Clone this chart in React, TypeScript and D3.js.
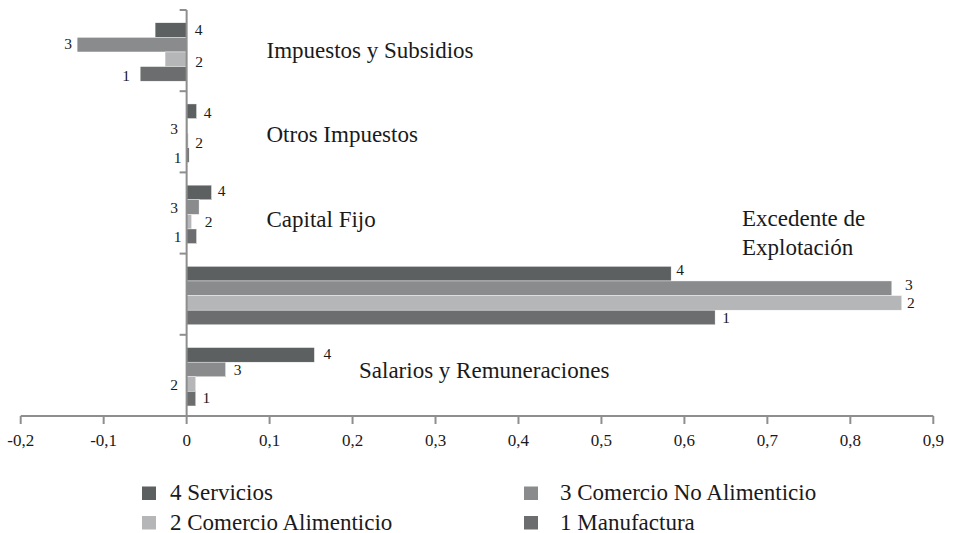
import * as d3 from 'd3';

// categories, top to bottom as drawn
const categories = [
  'Impuestos y Subsidios',
  'Otros Impuestos',
  'Capital Fijo',
  'Excedente de Explotación',
  'Salarios y Remuneraciones',
];

// series in drawing order inside each group (top bar first)
const seriesKeys = ['4', '3', '2', '1'];
const seriesNames = ['4 Servicios', '3 Comercio No Alimenticio', '2 Comercio Alimenticio', '1 Manufactura'];

const servicios = [-0.038, 0.012, 0.03, 0.584, 0.154];
const noAlimenticio = [-0.132, 0.001, 0.015, 0.85, 0.047];
const alimenticio = [-0.026, 0.002, 0.006, 0.862, 0.011];
const manufactura = [-0.056, 0.003, 0.012, 0.637, 0.011];

const xTicks = [-0.2, -0.1, 0, 0.1, 0.2, 0.3, 0.4, 0.5, 0.6, 0.7, 0.8, 0.9];

const colors = ['#5d6061', '#8a8b8c', '#b5b6b7', '#6b6d6e'];
const axisColor = '#8e8e8e';
const font = '"Liberation Serif", "DejaVu Serif", "Times New Roman", serif';

// where each data label sits: 'e' = from bar end, 'z' = from zero line; dx, dy in px
const labelPlace: [string, number, number][][] = [
  [['z', 12, 0], ['e', -9, -0.5], ['z', 12.5, 2.5], ['e', -14, 2]],
  [['e', 11, 2], ['z', -12.5, 3], ['z', 12.5, 2.2], ['z', -9, 3]],
  [['e', 10, -1.5], ['z', -12.5, 0.6], ['z', 22, 0], ['z', -9, 0.4]],
  [['e', 9, -3.5], ['e', 17, -3.3], ['e', 9, 0.5], ['e', 11, 0.3]],
  [['e', 13, -1], ['e', 12, 0.5], ['z', -12.5, 1], ['e', 10.5, -0.5]],
];

// category label anchors (start x, baseline y of first line)
const catLabels = [
  { lines: ['Impuestos y Subsidios'], x: 266.5, y: 58.3 },
  { lines: ['Otros Impuestos'], x: 266.5, y: 141.5 },
  { lines: ['Capital Fijo'], x: 266.5, y: 226.5 },
  { lines: ['Excedente de', 'Explotación'], x: 742, y: 226 },
  { lines: ['Salarios y Remuneraciones'], x: 359, y: 378.3 },
];

export default function App() {
  const width = 953;
  const height = 533;
  const values = [servicios, noAlimenticio, alimenticio, manufactura];

  const x = d3.scaleLinear().domain([-0.2, 0.9]).range([20.7, 933.3]);
  const y = d3.scaleBand().domain(categories).range([10, 416]).padding(0);
  const sub = d3
    .scaleBand()
    .domain(seriesKeys)
    .range([0, y.bandwidth()])
    .paddingInner(0)
    .paddingOuter(0.78)
    .align(0.56);

  const x0 = x(0);
  const bottom = y.range()[1];
  const bandEdges = [...categories.map((c) => y(c) as number), bottom];
  const fmt = (v: number) => (v === 0 ? '0' : d3.format('.1f')(v).replace('.', ',').replace('−', '-'));
  const txt = { fontFamily: font };

  return (
    <svg width={width} height={height} style={{ position: 'absolute', left: 0, top: 0 }}>
      <rect width={width} height={height} fill="#fff" />
      {categories.map((c, ci) =>
        seriesKeys.map((k, si) => {
          const v = values[si][ci];
          const by = (y(c) as number) + (sub(k) as number);
          return (
            <rect
              key={c + k}
              x={Math.min(x(v), x0)}
              y={by}
              width={Math.abs(x(v) - x0)}
              height={sub.bandwidth()}
              fill={colors[si]}
              stroke="#fff"
              strokeWidth={0.4}
            />
          );
        })
      )}
      {/* y axis */}
      <line x1={x0} x2={x0} y1={10} y2={bottom} stroke={axisColor} strokeWidth={2} />
      {bandEdges.map((e, i) => (
        <line key={'yt' + i} x1={x0 - 7} x2={x0} y1={e} y2={e} stroke={axisColor} strokeWidth={2} />
      ))}
      {/* x axis */}
      <line x1={x(-0.2)} x2={x(0.9)} y1={bottom} y2={bottom} stroke={axisColor} strokeWidth={2} />
      {xTicks.map((t) => (
        <g key={'xt' + t}>
          <line x1={x(t)} x2={x(t)} y1={bottom} y2={bottom + 8} stroke={axisColor} strokeWidth={2} />
          <text x={x(t)} y={446} textAnchor="middle" fontSize={17} fill="#1a1a1a" style={txt}>
            {fmt(t)}
          </text>
        </g>
      ))}
      {/* data labels */}
      {categories.map((c, ci) =>
        seriesKeys.map((k, si) => {
          const v = values[si][ci];
          const [mode, dx, dy] = labelPlace[ci][si];
          const lx = (mode === 'e' ? x(v) : x0) + dx;
          const ly = (y(c) as number) + (sub(k) as number) + sub.bandwidth() / 2 + 5 + dy;
          return (
            <text key={'l' + c + k} x={lx} y={ly} textAnchor="middle" fontSize={15.5} fill="#1a1a1a" style={txt}>
              {k}
            </text>
          );
        })
      )}
      {/* category labels */}
      {catLabels.map((l) =>
        l.lines.map((line, li) => (
          <text key={line} x={l.x} y={l.y + li * 29} fontSize={23} fill="#1a1a1a" style={txt}>
            {line}
          </text>
        ))
      )}
      {/* legend */}
      {seriesNames.map((n, i) => {
        const col = i % 2;
        const row = Math.floor(i / 2);
        const sx = col === 0 ? 142 : 524;
        const tx = col === 0 ? 170 : 560;
        const base = 500 + row * 29.5;
        return (
          <g key={n}>
            <rect x={sx} y={base - 13.5} width={14} height={13.5} fill={colors[i]} />
            <text x={tx} y={base} fontSize={23} fill="#1a1a1a" style={txt}>
              {n}
            </text>
          </g>
        );
      })}
    </svg>
  );
}
